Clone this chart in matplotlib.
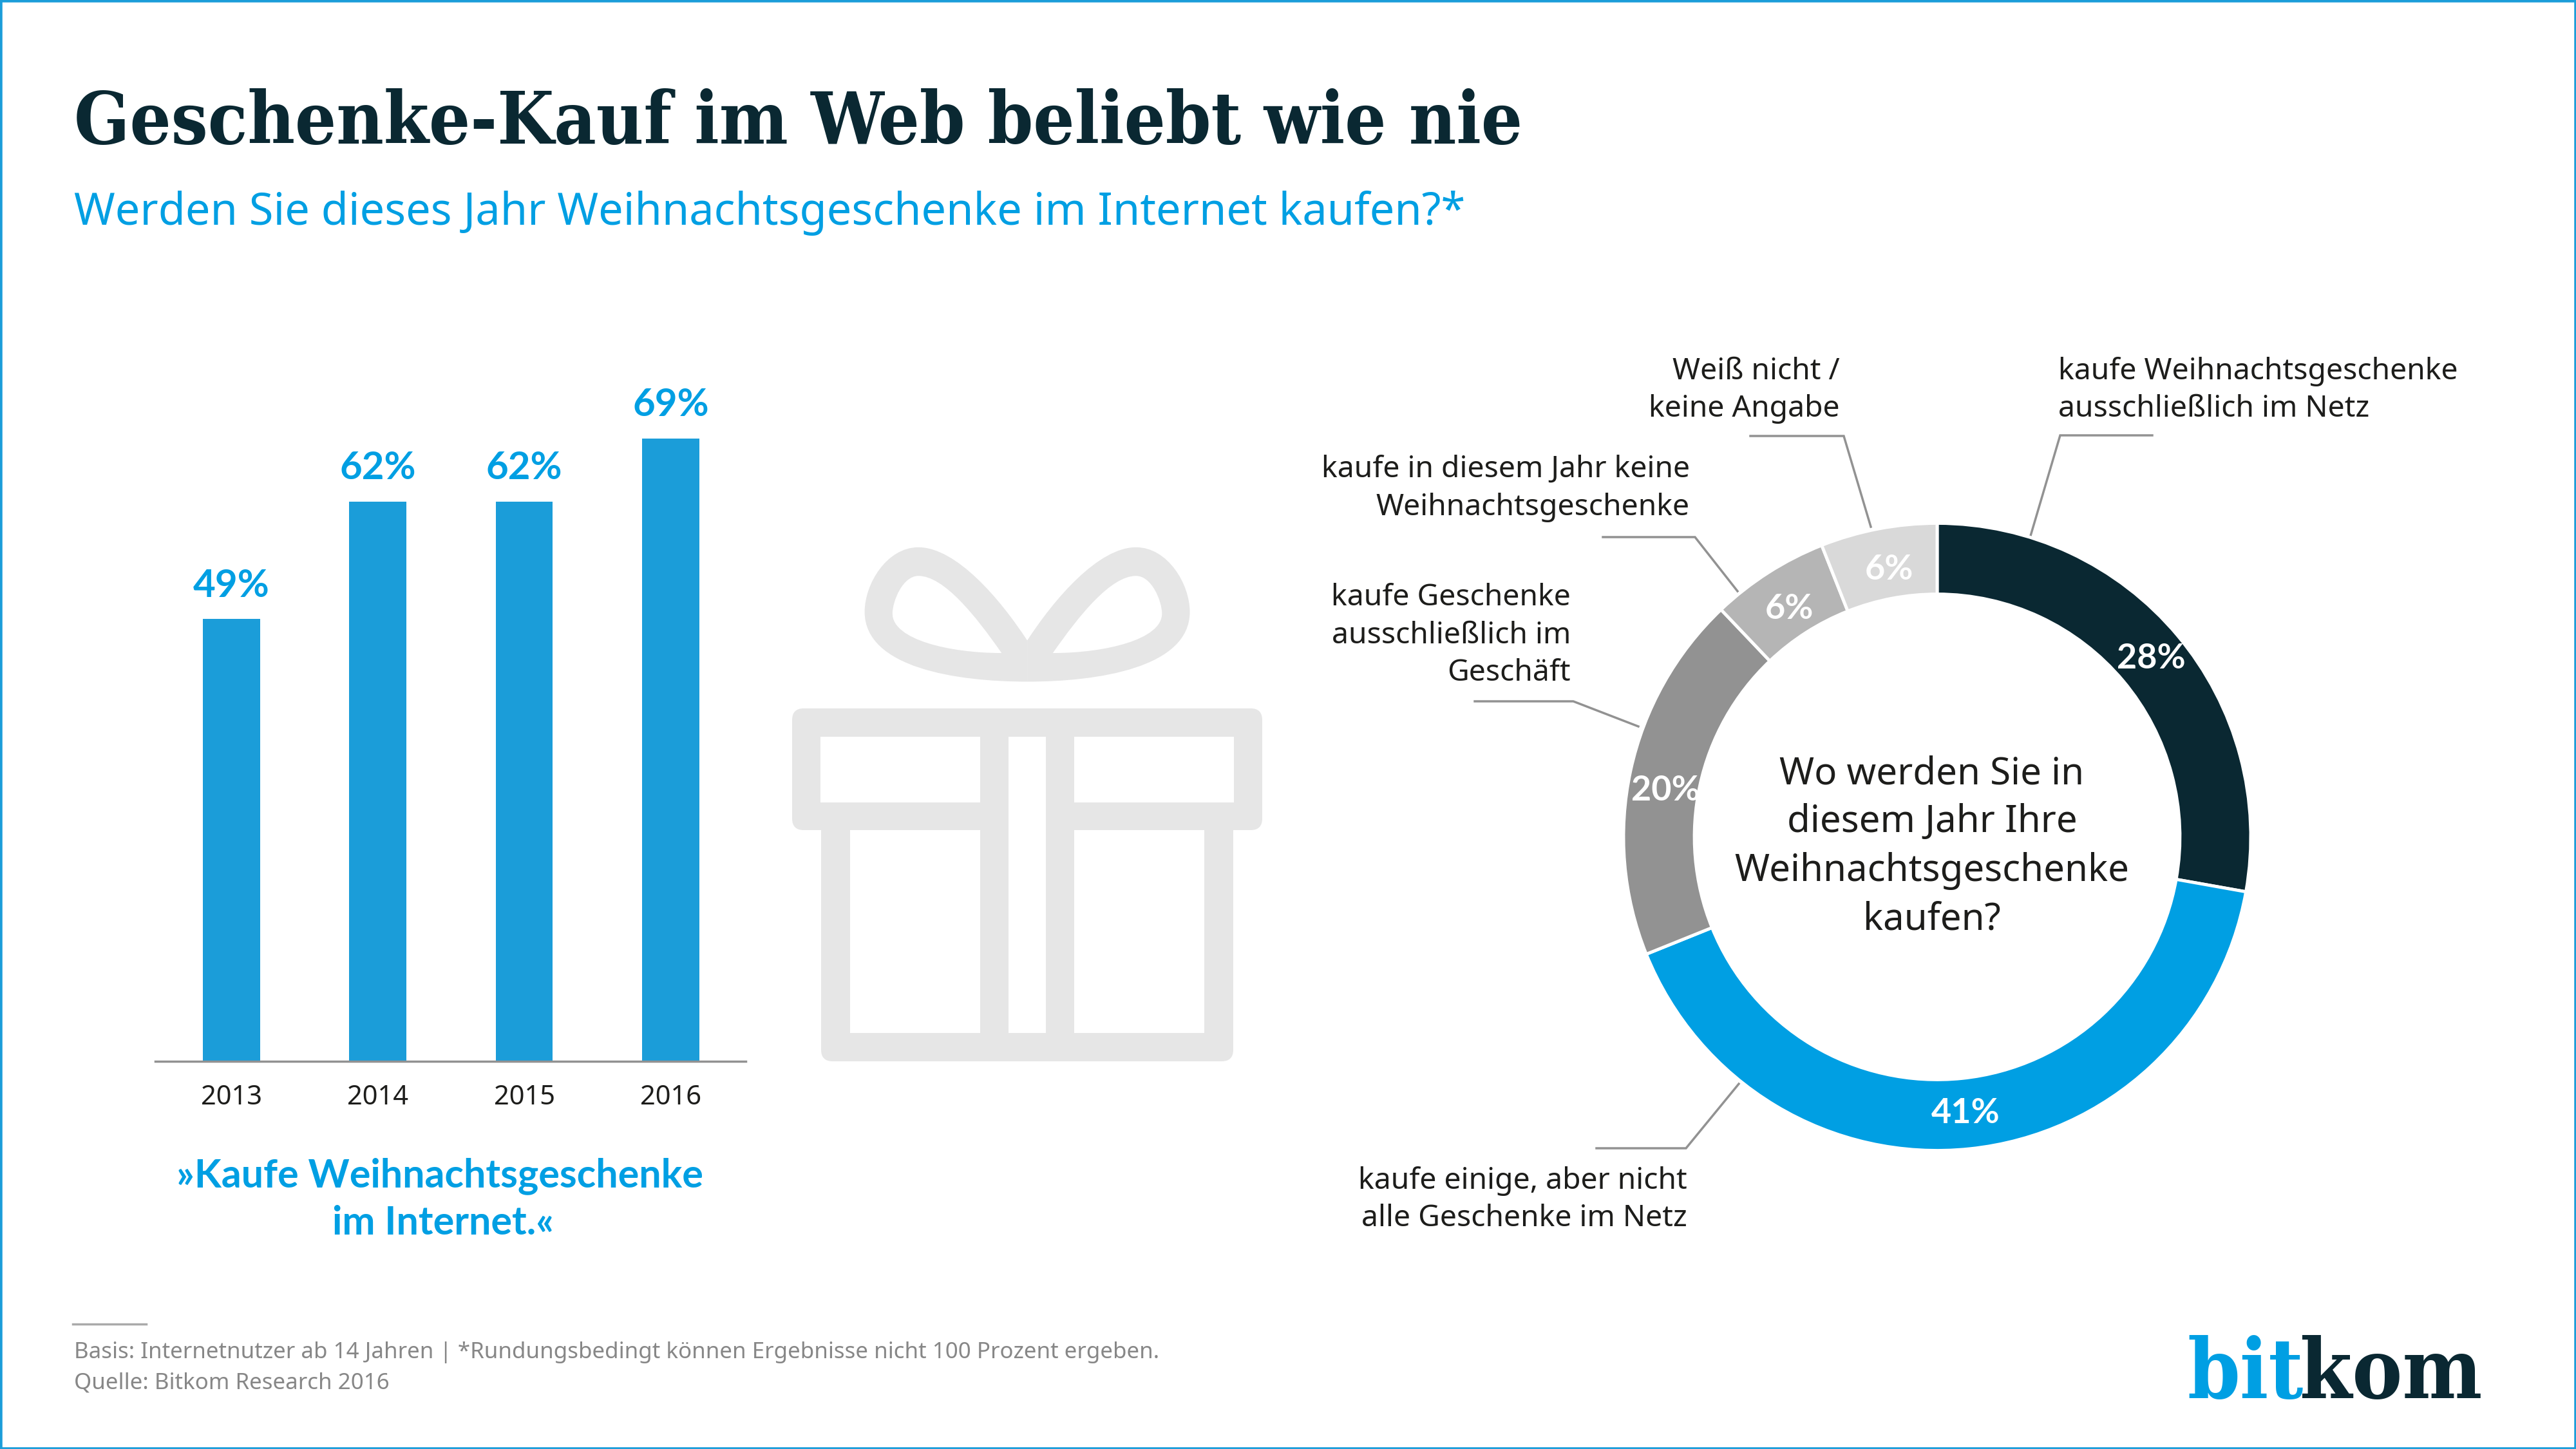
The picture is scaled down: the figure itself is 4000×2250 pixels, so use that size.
import numpy as np
import matplotlib
matplotlib.use("Agg")
import matplotlib.pyplot as plt
from matplotlib.patches import FancyBboxPatch, PathPatch, Rectangle
from matplotlib.path import Path

W, H = 4000, 2250

# =========================
# DATA
# =========================
years = ["2013", "2014", "2015", "2016"]
bar_values = [49, 62, 62, 69]

# slice sizes as drawn in the picture, the printed labels are rounded
donut_shares = [27.8, 41.1, 19.0, 6.1, 6.0]
donut_labels = ["28%", "41%", "20%", "6%", "6%"]
donut_names = [
    ["kaufe Weihnachtsgeschenke", "ausschließlich im Netz"],
    ["kaufe einige, aber nicht", "alle Geschenke im Netz"],
    ["kaufe Geschenke", "ausschließlich im", "Geschäft"],
    ["kaufe in diesem Jahr keine", "Weihnachtsgeschenke"],
    ["Weiß nicht /", "keine Angabe"],
]
center_question = ["Wo werden Sie in", "diesem Jahr Ihre", "Weihnachtsgeschenke", "kaufen?"]
title = "Geschenke-Kauf im Web beliebt wie nie"
subtitle = "Werden Sie dieses Jahr Weihnachtsgeschenke im Internet kaufen?*"
callout = ["»Kaufe Weihnachtsgeschenke", "im Internet.«"]
footer = [
    "Basis: Internetnutzer ab 14 Jahren | *Rundungsbedingt können Ergebnisse nicht 100 Prozent ergeben.",
    "Quelle: Bitkom Research 2016",
]

# =========================
# STYLE
# =========================
SANS = "Noto Sans"
SANS_BOLD = "Lato"
SLAB = "DejaVu Serif"
DARK = "#0a2832"
BLUE = "#009fe3"
BAR_BLUE = "#1b9dd9"
TEXT = "#1d1d1b"
LINE = "#929292"
GIFT = "#e6e6e6"
donut_colors = [DARK, BLUE, "#929292", "#b5b5b5", "#d9d9d9"]

fig = plt.figure(figsize=(16, 9), dpi=250, facecolor="white")

# full size layer in picture pixels for texts, leader lines and the icon
bg = fig.add_axes([0, 0, 1, 1])
bg.set_xlim(0, W)
bg.set_ylim(H, 0)
bg.axis("off")


def put(x, y, s, size, color=TEXT, ha="left", weight="normal", **kw):
    kw.setdefault("family", SANS)
    return bg.text(x, y, s, fontsize=size, color=color, ha=ha, va="baseline", weight=weight, **kw)


def axes_px(left, top, right, bottom):
    return fig.add_axes([left / W, 1 - bottom / H, (right - left) / W, (bottom - top) / H])


# =========================
# FRAME + HEADER
# =========================
bg.add_patch(Rectangle((1, 1), W - 2, H - 2, fill=False, ec=BAR_BLUE, lw=1.3))
put(115, 223, title, 32.4, DARK, weight="bold", family=SLAB, stretch="condensed")
put(115, 349, subtitle, 19.75, BLUE)

# =========================
# BARS
# =========================
ax = axes_px(241, 667, 1158, 1648)
x = np.arange(len(years))
bars = ax.bar(x, bar_values, width=0.39, color=BAR_BLUE)
ax.set_xlim(-0.521, 3.513)
ax.set_ylim(0, 70)
ax.patch.set_alpha(0)
for s in ["top", "left", "right"]:
    ax.spines[s].set_visible(False)
ax.spines["bottom"].set_color(LINE)
ax.spines["bottom"].set_linewidth(1.0)
ax.set_yticks([])
ax.set_xticks(x, years, fontsize=12, color=TEXT, family=SANS)
ax.tick_params(axis="x", length=0, pad=10)
for b, v in zip(bars, bar_values):
    ax.annotate(f"{v}%", (b.get_x() + b.get_width() / 2, v), xytext=(0, 10),
                textcoords="offset points", ha="center", va="baseline",
                fontsize=17.3, color=BLUE, weight="bold", family=SANS_BOLD, annotation_clip=False)

put(683, 1843, callout[0], 17.6, BLUE, ha="center", weight="bold", family=SANS_BOLD)
put(688, 1917, callout[1], 17.6, BLUE, ha="center", weight="bold", family=SANS_BOLD)

# =========================
# GIFT ICON
# =========================


def gx(v):
    return 1210 + v / 2.036


def gy(v):
    return 820 + v / 1.845


def gift_shape(segments, color):
    verts = []
    codes = []
    for i, (px, py) in enumerate(segments):
        verts.append((gx(px), gy(py)))
        codes.append(Path.MOVETO if i == 0 else Path.CURVE4)
    bg.add_patch(PathPatch(Path(verts, codes), fc=color, ec="none"))


for side in [lambda v: v, lambda v: 1568 - v]:
    gift_shape([(side(784), 322), (side(700), 205), (side(560), 55), (side(440), 55),
                (side(340), 55), (side(270), 160), (side(270), 240),
                (side(270), 400), (side(560), 440), (side(784), 440),
                (side(784), 400), (side(784), 360), (side(784), 322)], GIFT)
    gift_shape([(side(703), 358), (side(620), 250), (side(520), 137), (side(440), 137),
                (side(390), 137), (side(358), 210), (side(358), 245),
                (side(358), 320), (side(540), 358), (side(703), 358)], "white")

for l, t, r, b in [(1275, 1240, 1915, 1648), (1230, 1100, 1960, 1289)]:
    bg.add_patch(FancyBboxPatch((l + 18, t + 18), r - l - 36, b - t - 36,
                                boxstyle="round,pad=18,rounding_size=18", fc=GIFT, ec="none"))
for l, t, r, b in [(1274, 1144, 1522, 1245.5), (1668, 1144, 1916, 1245.5),
                   (1566, 1144, 1624, 1604), (1320, 1289, 1522, 1604), (1668, 1289, 1870, 1604)]:
    bg.add_patch(Rectangle((l, t), r - l, b - t, fc="white", ec="none"))

# =========================
# DONUT
# =========================
cx, cy, R = 3008, 1299.5, 487
dax = axes_px(cx - R, cy - R, cx + R, cy + R)
wedges, _ = dax.pie(donut_shares, colors=donut_colors, startangle=90, counterclock=False,
                    radius=1, wedgeprops=dict(width=0.226, edgecolor="white", linewidth=1.4))
dax.set_xlim(-1, 1)
dax.set_ylim(-1, 1)
label_nudge = [(0.005, 0), (0, 0), (0, -0.04), (0.005, -0.018), (0.012, -0.018)]
for w, lab, (nx, ny) in zip(wedges, donut_labels, label_nudge):
    a = np.deg2rad((w.theta1 + w.theta2) / 2)
    dax.text(0.885 * np.cos(a) + nx, 0.885 * np.sin(a) + ny, lab, ha="center", va="center",
             fontsize=15.5, color="white", weight="bold", family=SANS_BOLD)

# leader lines
leaders = [
    [(3342, 676), (3199, 676), (3153, 832)],
    [(2479, 1783), (2618, 1783), (2700, 1683)],
    [(2290, 1089), (2443, 1089), (2544, 1128)],
    [(2489, 834), (2632, 834), (2698, 918)],
    [(2718, 677), (2863, 677), (2905, 818)],
]
for pts in leaders:
    bg.plot([p[0] for p in pts], [p[1] for p in pts], color=LINE, lw=1.0, solid_joinstyle="miter")

# slice names
name_pos = [(3196, "left", [589, 647]), (2620, "right", [1846, 1904]),
            (2439, "right", [940, 999, 1057]), (2624, "right", [741, 800]),
            (2857, "right", [589, 647])]
for lines, (nx, nha, ys) in zip(donut_names, name_pos):
    for s, ny in zip(lines, ys):
        put(nx, ny, s, 13.35, TEXT, ha=nha)

for s, qy in zip(center_question, [1217, 1292, 1368, 1443]):
    put(3000, qy, s, 16.75, TEXT, ha="center")

# =========================
# FOOTER + LOGO
# =========================
bg.plot([113, 227], [2056, 2056], color="#aaaaaa", lw=1.0)
put(115, 2109, footer[0], 10.05, "#878787")
put(115, 2156, footer[1], 10.05, "#878787")
put(3396, 2171, "bit", 37.5, BLUE, weight="bold", family=SLAB, stretch="condensed")
put(3854, 2171, "kom", 37.5, DARK, ha="right", weight="bold", family=SLAB, stretch="condensed")

bg.set_xlim(0, W)
bg.set_ylim(H, 0)
fig.savefig("out.png", dpi=250)
